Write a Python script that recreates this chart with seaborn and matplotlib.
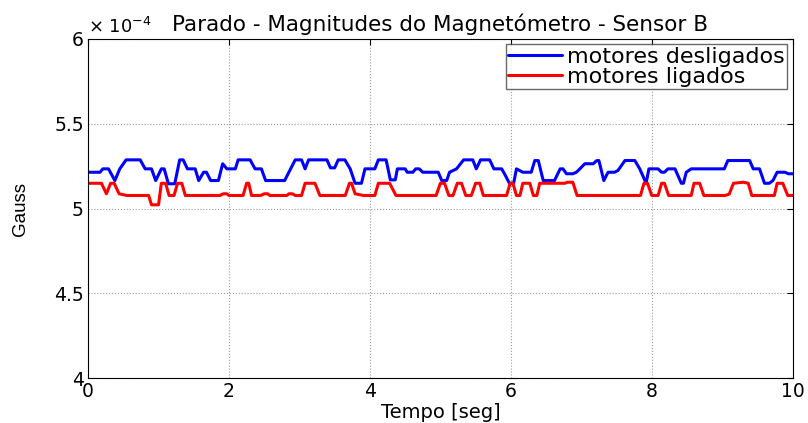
import pandas as pd
import seaborn as sns
import matplotlib.pyplot as plt
from matplotlib.ticker import FuncFormatter

# Magnetometer magnitude (units of 1e-4 Gauss), breakpoints.
t_off = [0.00, 0.17, 0.21, 0.29, 0.38, 0.45, 0.54, 0.74, 0.81, 0.90,
         0.96, 1.04, 1.08, 1.14, 1.23, 1.30, 1.35, 1.41, 1.52, 1.57,
         1.64, 1.68, 1.74, 1.85, 1.91, 1.97, 2.09, 2.13, 2.30, 2.37,
         2.46, 2.52, 2.79, 2.85, 2.94, 3.03, 3.08, 3.13, 3.39, 3.44,
         3.50, 3.55, 3.645, 3.72, 3.79, 3.88, 3.93, 4.07, 4.12, 4.23,
         4.29, 4.36, 4.39, 4.50, 4.53, 4.61, 4.65, 4.70, 4.75, 4.97,
         5.02, 5.09, 5.13, 5.23, 5.33, 5.46, 5.51, 5.57, 5.70, 5.76,
         5.87, 5.91, 5.98, 6.04, 6.08, 6.17, 6.29, 6.34, 6.39, 6.46,
         6.62, 6.70, 6.74, 6.79, 6.88, 6.93, 6.98, 7.05, 7.17, 7.22,
         7.25, 7.32, 7.38, 7.47, 7.52, 7.62, 7.76, 7.83, 7.92, 7.96,
         8.09, 8.14, 8.18, 8.23, 8.33, 8.42, 8.45, 8.49, 8.56, 9.03,
         9.08, 9.39, 9.44, 9.53, 9.60, 9.67, 9.72, 9.78, 9.89, 9.94,
         10.0]
v_off = [5.214, 5.214, 5.234, 5.234, 5.165, 5.234, 5.287, 5.287, 5.234, 5.234,
         5.165, 5.234, 5.234, 5.146, 5.146, 5.287, 5.287, 5.234, 5.234, 5.165,
         5.214, 5.214, 5.165, 5.165, 5.264, 5.234, 5.234, 5.287, 5.287, 5.234,
         5.234, 5.165, 5.165, 5.214, 5.287, 5.287, 5.234, 5.287, 5.287, 5.240,
         5.240, 5.287, 5.287, 5.234, 5.149, 5.149, 5.234, 5.234, 5.287, 5.287,
         5.169, 5.169, 5.234, 5.234, 5.214, 5.214, 5.234, 5.234, 5.214, 5.214,
         5.165, 5.165, 5.214, 5.234, 5.287, 5.287, 5.234, 5.287, 5.287, 5.234,
         5.234, 5.205, 5.149, 5.149, 5.234, 5.214, 5.214, 5.283, 5.283, 5.165,
         5.165, 5.234, 5.234, 5.205, 5.205, 5.214, 5.234, 5.264, 5.264, 5.283,
         5.283, 5.165, 5.214, 5.214, 5.224, 5.283, 5.283, 5.234, 5.149, 5.234,
         5.234, 5.214, 5.214, 5.234, 5.234, 5.149, 5.149, 5.214, 5.234, 5.234,
         5.283, 5.283, 5.234, 5.234, 5.149, 5.149, 5.165, 5.214, 5.214, 5.205,
         5.205]

t_on = [0.00, 0.19, 0.26, 0.32, 0.37, 0.44, 0.55, 0.86, 0.90, 1.00,
        1.04, 1.10, 1.15, 1.22, 1.27, 1.33, 1.38, 1.87, 1.92, 1.97,
        2.00, 2.20, 2.25, 2.28, 2.32, 2.45, 2.50, 2.55, 2.58, 2.82,
        2.85, 2.90, 2.94, 3.03, 3.08, 3.22, 3.29, 3.65, 3.71, 3.74,
        3.79, 3.91, 4.07, 4.12, 4.28, 4.37, 4.94, 5.00, 5.06, 5.12,
        5.18, 5.24, 5.30, 5.36, 5.44, 5.50, 5.56, 5.61, 5.94, 5.99,
        6.03, 6.08, 6.13, 6.17, 6.27, 6.32, 6.37, 6.41, 6.77, 6.80,
        6.88, 6.94, 7.84, 7.89, 7.94, 8.00, 8.09, 8.14, 8.18, 8.24,
        8.56, 8.60, 8.68, 8.74, 9.04, 9.10, 9.16, 9.30, 9.37, 9.42,
        9.74, 9.78, 9.86, 9.93, 10.0]
v_on = [5.149, 5.149, 5.087, 5.149, 5.149, 5.087, 5.077, 5.077, 5.022, 5.022,
        5.149, 5.149, 5.077, 5.077, 5.149, 5.149, 5.077, 5.077, 5.087, 5.087,
        5.077, 5.077, 5.149, 5.149, 5.077, 5.077, 5.087, 5.087, 5.077, 5.077,
        5.087, 5.087, 5.077, 5.077, 5.149, 5.149, 5.077, 5.077, 5.149, 5.149,
        5.087, 5.077, 5.077, 5.149, 5.149, 5.077, 5.077, 5.149, 5.149, 5.077,
        5.077, 5.149, 5.149, 5.077, 5.077, 5.149, 5.149, 5.077, 5.077, 5.149,
        5.149, 5.077, 5.077, 5.149, 5.149, 5.077, 5.077, 5.149, 5.149, 5.155,
        5.155, 5.077, 5.077, 5.149, 5.149, 5.077, 5.077, 5.149, 5.149, 5.077,
        5.077, 5.149, 5.149, 5.077, 5.077, 5.085, 5.149, 5.155, 5.149, 5.077,
        5.077, 5.149, 5.149, 5.077, 5.077]

labels = ["motores desligados", "motores ligados"]
x_ticks = [0, 2, 4, 6, 8, 10]
y_ticks = [4, 4.5, 5, 5.5, 6]

sns.set_style("white")
plt.rcParams['font.family'] = ['DejaVu Sans']
plt.rcParams['text.color'] = 'black'
plt.rcParams['axes.labelcolor'] = 'black'
plt.rcParams['xtick.color'] = 'black'
plt.rcParams['ytick.color'] = 'black'

df_off = pd.DataFrame({"t": t_off, "g": [v * 1e-4 for v in v_off]})
df_on = pd.DataFrame({"t": t_on, "g": [v * 1e-4 for v in v_on]})

fig = plt.figure(figsize=(8.08, 4.23), dpi=100)
ax = fig.add_axes([0.109, 0.106, 0.872, 0.802])

sns.lineplot(data=df_off, x="t", y="g", color=(0, 0, 1), linewidth=2.2,
             estimator=None, label=labels[0], ax=ax)
sns.lineplot(data=df_on, x="t", y="g", color=(1, 0, 0), linewidth=2.2,
             estimator=None, label=labels[1], ax=ax)

ax.set_xlim(0, 10)
ax.set_ylim(4e-4, 6e-4)
ax.set_xticks(x_ticks)
ax.set_yticks([y * 1e-4 for y in y_ticks])
ax.yaxis.set_major_formatter(FuncFormatter(lambda v, _: f"{v * 1e4:g}"))
ax.tick_params(direction="in", length=4, labelsize=13.5, top=True, right=True,
               color="black", labelcolor="black", pad=3)
ax.grid(True, linestyle=":", color="#9a9a9a", linewidth=0.8)
for s in ax.spines.values():
    s.set_visible(True)
    s.set_color("black")
    s.set_linewidth(0.8)

ax.set_xlabel("Tempo [seg]", fontsize=14, labelpad=1)
ax.set_ylabel("Gauss", fontsize=13.5, family=["Liberation Sans Narrow", "Liberation Sans"],
              labelpad=18)
ax.set_title("Parado - Magnitudes do Magnetómetro - Sensor B", fontsize=15.5, pad=6)
ax.text(0.0, 1.005, "× 10$^{-4}$", transform=ax.transAxes, fontsize=13,
        ha="left", va="bottom")

leg = ax.legend(loc="upper right", fontsize=16, handlelength=2.4, handletextpad=0.25,
                borderpad=0.1, labelspacing=0.0, borderaxespad=0.25,
                frameon=True, fancybox=False)
leg.get_frame().set_edgecolor("#444444")
leg.get_frame().set_linewidth(1.0)

fig.savefig("out.png", dpi=100)
